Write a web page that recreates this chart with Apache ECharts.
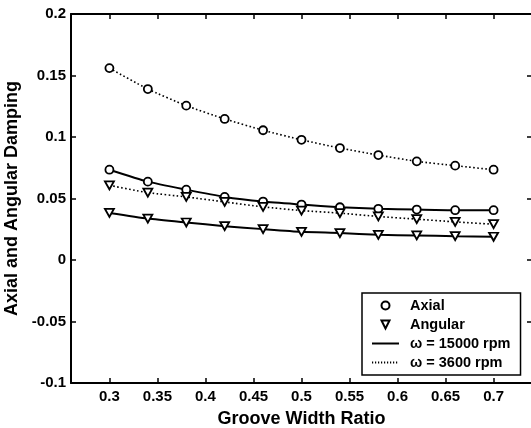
<!DOCTYPE html>
<html>
<head>
<meta charset="utf-8">
<script src="https://cdn.jsdelivr.net/npm/echarts@6/dist/echarts.min.js"></script>
<style>html,body{margin:0;padding:0;background:#fff;}#c{width:531px;height:428px;}</style>
</head>
<body>
<div id="c"></div>
<script>
const ratio = [0.3, 0.34, 0.38, 0.42, 0.46, 0.5, 0.54, 0.58, 0.62, 0.66, 0.7];
const axial3600 = [0.156, 0.139, 0.1255, 0.1147, 0.1055, 0.0977, 0.091, 0.0853, 0.0802, 0.0767, 0.0734];
const axial15000 = [0.0734, 0.0637, 0.0572, 0.0513, 0.0475, 0.0451, 0.0429, 0.0416, 0.041, 0.0405, 0.0405];
const angular3600 = [0.0607, 0.0548, 0.0513, 0.0472, 0.0432, 0.0402, 0.0381, 0.0354, 0.0332, 0.031, 0.0291];
const angular15000 = [0.0383, 0.0337, 0.0305, 0.0275, 0.0251, 0.0229, 0.0219, 0.0205, 0.02, 0.0194, 0.0189];
const xTicks = [0.3, 0.35, 0.4, 0.45, 0.5, 0.55, 0.6, 0.65, 0.7];
const legendNames = ['Axial', 'Angular', 'ω = 15000 rpm', 'ω = 3600 rpm'];

const FONT = '"Liberation Sans", Arial, sans-serif';
const pair = (xs, ys) => xs.map((x, i) => [x, ys[i]]);
const markerStyle = {color: '#fff', borderColor: '#000', borderWidth: 1.8};
const dotted = {color: '#000', width: 1.6, type: [1.6, 2.4]};
const solid = {color: '#000', width: 2, type: 'solid'};

function dataSeries(name, ys, symbol, rotate, line) {
  return {
    name: name, type: 'line', data: pair(ratio, ys),
    symbol: symbol, symbolSize: symbol === 'circle' ? 8 : [9, 8], symbolRotate: rotate,
    itemStyle: markerStyle, lineStyle: line, smooth: 0.2, z: 3, silent: true
  };
}

const series = [
  dataSeries('a3600', axial3600, 'circle', 0, dotted),
  dataSeries('a15000', axial15000, 'circle', 0, solid),
  dataSeries('g3600', angular3600, 'triangle', 180, dotted),
  dataSeries('g15000', angular15000, 'triangle', 180, solid),
  {name: legendNames[0], type: 'line', data: [], symbol: 'circle', symbolRotate: 0, itemStyle: markerStyle, lineStyle: {width: 0, opacity: 0}},
  {name: legendNames[1], type: 'line', data: [], symbol: 'triangle', symbolRotate: 180, itemStyle: markerStyle, lineStyle: {width: 0, opacity: 0}},
  {name: legendNames[2], type: 'line', data: [], symbol: 'none', itemStyle: {opacity: 0}, lineStyle: {color: '#000', width: 1.5, type: 'solid'}},
  {name: legendNames[3], type: 'line', data: [], symbol: 'none', itemStyle: {opacity: 0}, lineStyle: {color: '#000', width: 1.2, type: [1.2, 1.8]}}
];

const axisLine = {show: true, onZero: false, lineStyle: {color: '#000', width: 2}};
const labelStyle = {color: '#000', fontFamily: FONT, fontWeight: 'bold', fontSize: 15};
const nameStyle = {color: '#000', fontFamily: FONT, fontWeight: 'bold', fontSize: 18};

const chart = echarts.init(document.getElementById('c'), null, {renderer: 'canvas'});
chart.setOption({
  animation: false,
  backgroundColor: '#fff',
  grid: {left: 71, top: 14, width: 461, bottom: 45, containLabel: false, outerBoundsMode: 'none'},
  xAxis: [
    {type: 'value', min: 0.26, max: 0.74, position: 'bottom',
     axisLine: axisLine, splitLine: {show: false},
     axisTick: {inside: true, length: 5, customValues: xTicks, lineStyle: {color: '#000', width: 1.5}},
     axisLabel: Object.assign({customValues: xTicks, margin: 6}, labelStyle),
     name: 'Groove Width Ratio', nameLocation: 'middle', nameGap: 27, nameTextStyle: nameStyle},
    {type: 'value', min: 0.26, max: 0.74, position: 'top',
     axisLine: axisLine, splitLine: {show: false},
     axisTick: {inside: true, length: 5, customValues: xTicks, lineStyle: {color: '#000', width: 1.5}},
     axisLabel: {show: false}}
  ],
  yAxis: [
    {type: 'value', min: -0.1, max: 0.2, interval: 0.05, position: 'left',
     axisLine: axisLine, splitLine: {show: false},
     axisTick: {inside: true, length: 5, lineStyle: {color: '#000', width: 1.5}},
     axisLabel: Object.assign({margin: 5}, labelStyle),
     name: 'Axial and Angular Damping', nameLocation: 'middle', nameGap: 42, nameRotate: 90, nameTextStyle: nameStyle},
    {type: 'value', min: -0.1, max: 0.2, interval: 0.05, position: 'right',
     axisLine: axisLine, splitLine: {show: false},
     axisTick: {inside: true, length: 5, lineStyle: {color: '#000', width: 1.5}},
     axisLabel: {show: false}}
  ],
  legend: {
    data: legendNames, orient: 'vertical', left: 362, top: 293,
    padding: [5, 10, 5, 9], itemWidth: 27, itemHeight: 10, itemGap: 4,
    backgroundColor: '#fff', borderColor: '#000', borderWidth: 1.5,
    textStyle: {color: '#000', fontFamily: FONT, fontWeight: 'bold', fontSize: 14.5, lineHeight: 15, padding: [0, 0, 0, 6]},
    selectedMode: false, z: 10
  },
  series: series
});
</script>
</body>
</html>
